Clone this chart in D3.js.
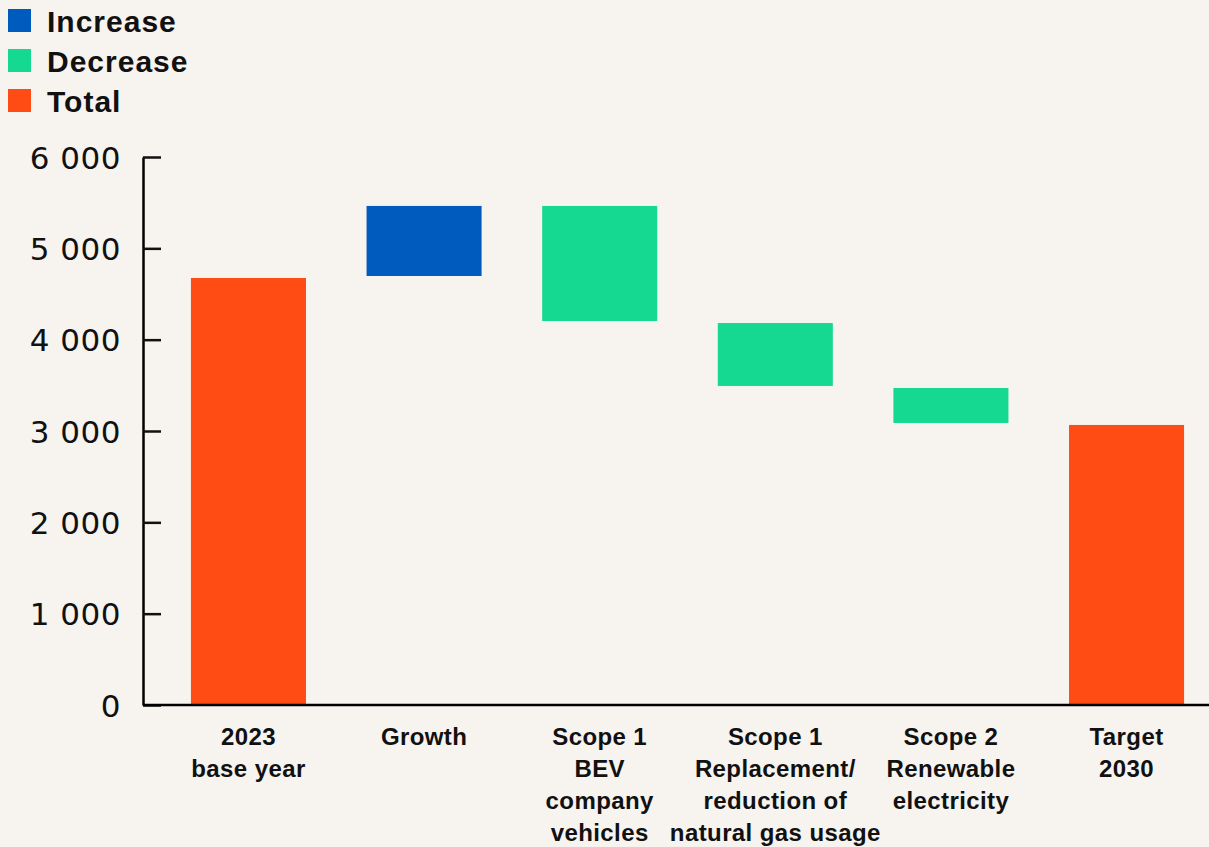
<!DOCTYPE html>
<html>
<head>
<meta charset="utf-8">
<script src="https://cdn.jsdelivr.net/npm/d3@7"></script>
<style>
  html, body { margin: 0; padding: 0; background: #f7f3ef; }
  svg { display: block; }
</style>
</head>
<body>
<svg id="chart" width="1209" height="847"></svg>
<script>
// ---- data ----
const categories = ["2023 base year", "Growth", "Scope 1 BEV company vehicles", "Scope 1 Replacement/reduction of natural gas usage", "Scope 2 Renewable electricity", "Target 2030"];
const categoryLines = [
  ["2023", "base year"],
  ["Growth"],
  ["Scope 1", "BEV", "company", "vehicles"],
  ["Scope 1", "Replacement/", "reduction of", "natural gas usage"],
  ["Scope 2", "Renewable", "electricity"],
  ["Target", "2030"]
];
const barLow  = [0,    4697, 4204, 3493, 3088, 0];
const barHigh = [4675, 5464, 5464, 4182, 3471, 3066];
const barType = ["Total", "Increase", "Decrease", "Decrease", "Decrease", "Total"];
const yTicks = [0, 1000, 2000, 3000, 4000, 5000, 6000];
const legendItems = ["Increase", "Decrease", "Total"];
const typeColors = { Increase: "#005bbf", Decrease: "#15d990", Total: "#ff4b14" };

// ---- chart ----
const svg = d3.select("#chart");

const y = d3.scaleLinear().domain([0, 6000]).range([705, 157]);
const x = d3.scaleBand().domain(categories).range([143, 1232])
  .paddingInner(0.345).paddingOuter(0.273);

// bars
svg.append("g").selectAll("rect")
  .data(categories)
  .join("rect")
  .attr("x", d => x(d))
  .attr("width", x.bandwidth())
  .attr("y", (d, i) => y(barHigh[i]))
  .attr("height", (d, i) => y(barLow[i]) - y(barHigh[i]))
  .attr("fill", (d, i) => typeColors[barType[i]]);

// y axis
const fmt = d => d3.format(",")(d).replace(/,/g, " ");
const yAxis = svg.append("g")
  .attr("transform", "translate(143,0)")
  .call(d3.axisLeft(y).tickValues(yTicks).tickSizeInner(-18).tickSizeOuter(0).tickPadding(22).tickFormat(fmt));
yAxis.select(".domain").attr("stroke", "#000").attr("stroke-width", 2.5);
yAxis.selectAll(".tick line").attr("stroke", "#111").attr("stroke-width", 2.5);
yAxis.selectAll(".tick text")
  .attr("fill", "#111")
  .attr("dy", "0.36em")
  .style("font-family", "'DejaVu Sans', sans-serif")
  .style("font-size", "31px")
  .style("letter-spacing", "0.5px");

// x axis
const xAxis = svg.append("g")
  .attr("transform", "translate(0,705)")
  .call(d3.axisBottom(x).tickSize(0).tickPadding(0));
xAxis.select(".domain").attr("stroke", "#000").attr("stroke-width", 2.5)
  .attr("d", "M143,0H1209");
xAxis.selectAll(".tick text").each(function(d, i) {
  const t = d3.select(this);
  t.text(null)
    .attr("y", 0)
    .attr("dy", null)
    .attr("fill", "#111")
    .style("font-family", "'Liberation Sans', Arial, sans-serif")
    .style("font-weight", "bold")
    .style("font-size", "24px")
    .style("letter-spacing", "0.4px");
  categoryLines[i].forEach((line, j) => {
    t.append("tspan").attr("x", 0).attr("y", 40 + j * 32).text(line);
  });
});

// legend
const legend = svg.append("g").selectAll("g")
  .data(legendItems)
  .join("g")
  .attr("transform", (d, i) => `translate(8,${9 + i * 40})`);
legend.append("rect")
  .attr("width", 23).attr("height", 23)
  .attr("fill", d => typeColors[d]);
legend.append("text")
  .attr("x", 39).attr("y", 23)
  .attr("fill", "#111")
  .style("font-family", "'Liberation Sans', Arial, sans-serif")
  .style("font-weight", "bold")
  .style("font-size", "30px")
  .style("letter-spacing", "1px")
  .text(d => d);
</script>
</body>
</html>
